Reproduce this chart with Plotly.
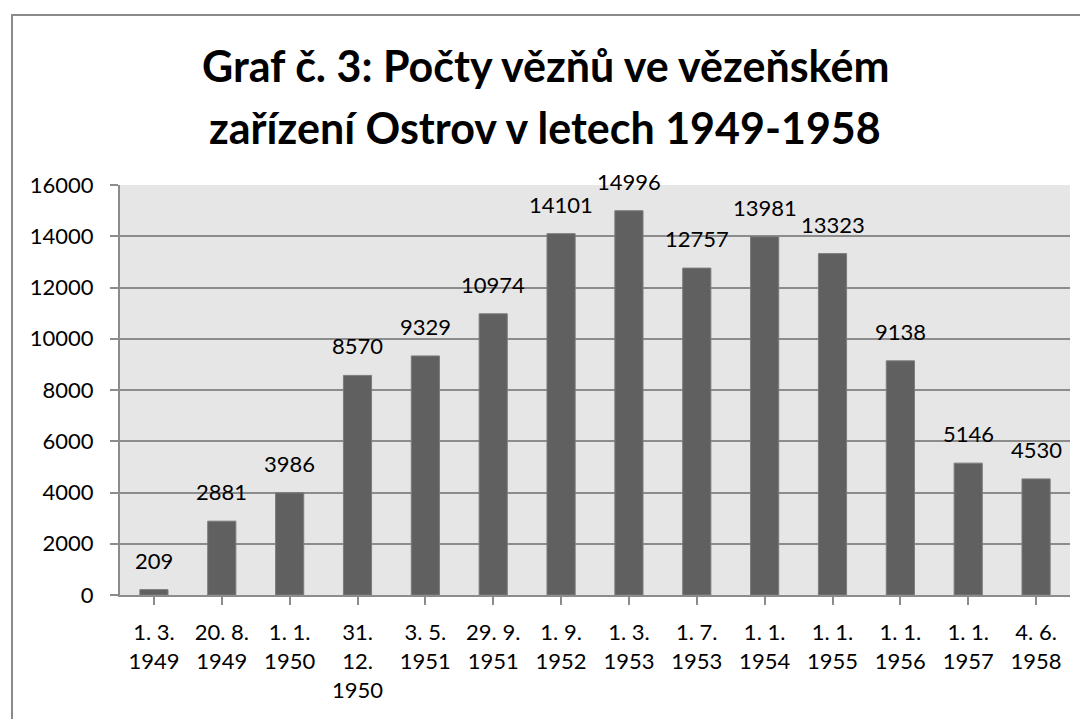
import plotly.graph_objects as go

categories = ["1. 3.<br>1949", "20. 8.<br>1949", "1. 1.<br>1950", "31.<br>12.<br>1950",
              "3. 5.<br>1951", "29. 9.<br>1951", "1. 9.<br>1952", "1. 3.<br>1953",
              "1. 7.<br>1953", "1. 1.<br>1954", "1. 1.<br>1955", "1. 1.<br>1956",
              "1. 1.<br>1957", "4. 6.<br>1958"]
values = [209, 2881, 3986, 8570, 9329, 10974, 14101, 14996, 12757, 13981, 13323, 9138, 5146, 4530]
y_ticks = [0, 2000, 4000, 6000, 8000, 10000, 12000, 14000, 16000]
y_tick_labels = [str(v) for v in y_ticks]
title_lines = ["Graf č. 3: Počty vězňů ve vězeňském", "zařízení Ostrov v letech 1949-1958"]

FONT = "Lato, 'Open Sans', sans-serif"
W, H = 1088, 719
ML, MR, MT, MB = 112, 26, 177, 132
PW, PH = W - ML - MR, H - MT - MB

xs = list(range(len(categories)))

fig = go.Figure()
fig.add_trace(go.Bar(
    x=xs,
    y=values,
    width=0.415,
    marker=dict(color="#606060", line=dict(color="#7c7c7c", width=1)),
    hoverinfo="y",
))

for xi, v in zip(xs, values):
    fig.add_annotation(x=xi, y=v, text=str(v), showarrow=False,
                       xanchor="center", yanchor="bottom", yshift=14,
                       font=dict(family=FONT, size=22, color="#000000"))

# title lines (figure-pixel centres converted to paper coordinates)
title_centres_px = [58, 120]
title_x_px = 537
for line, ypx in zip(title_lines, title_centres_px):
    fig.add_annotation(xref="paper", yref="paper",
                       x=(title_x_px - ML) / PW, y=1 + (MT - ypx) / PH,
                       text="<b>" + line + "</b>", showarrow=False,
                       xanchor="center", yanchor="middle",
                       font=dict(family=FONT, size=43, color="#000000"))

fig.update_layout(
    width=W, height=H,
    margin=dict(l=ML, r=MR, t=MT, b=MB),
    paper_bgcolor="white",
    plot_bgcolor="#e6e6e6",
    showlegend=False,
    font=dict(family=FONT, size=22, color="#000000"),
)

fig.update_xaxes(
    tickmode="array",
    tickvals=xs,
    ticktext=categories,
    range=[-0.5, len(categories) - 0.5],
    tickson="boundaries",
    ticks="outside", ticklen=8, tickcolor="#8c8c8c", tickwidth=1.5,
    showline=True, linecolor="#8c8c8c", linewidth=2,
    showgrid=False,
    tickfont=dict(family=FONT, size=22),
    tickangle=0,
    ticklabelstandoff=9,
)
fig.update_yaxes(
    range=[0, 16000],
    tickmode="array", tickvals=y_ticks, ticktext=y_tick_labels,
    ticks="outside", ticklen=8, tickcolor="#8c8c8c", tickwidth=1.5,
    showline=True, linecolor="#8c8c8c", linewidth=2,
    showgrid=True, gridcolor="#8c8c8c", gridwidth=2,
    zeroline=False,
    tickfont=dict(family=FONT, size=22),
    ticklabelstandoff=12,
)

fig.add_shape(type="rect", xref="paper", yref="paper",
              x0=(4 - ML) / PW, x1=1.3, y0=-0.8, y1=1 + (MT - 7) / PH,
              line=dict(color="#8a8a8a", width=2), fillcolor="rgba(0,0,0,0)", layer="below")

fig.write_html("out.html")
